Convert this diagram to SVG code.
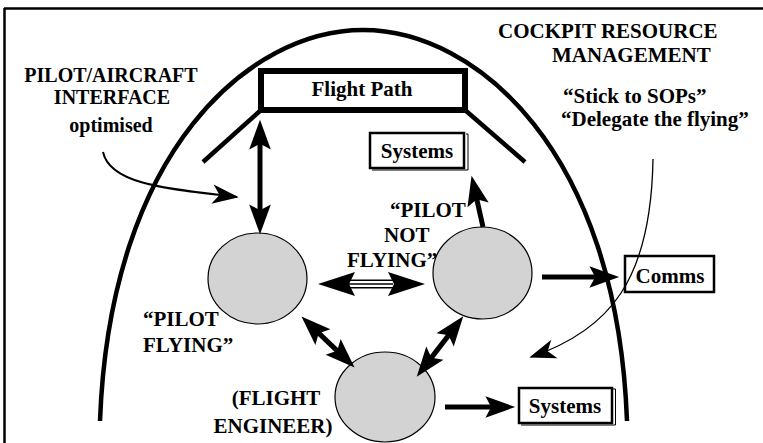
<svg xmlns="http://www.w3.org/2000/svg" width="763" height="443" viewBox="0 0 763 443">
<style>
text{font-family:"Liberation Serif","Times New Roman",serif;font-weight:bold;font-size:21px;fill:#000}
.m{text-anchor:middle}
.s{font-size:20px}
.thick{fill:none;stroke:#000;stroke-width:4.5}
.box{fill:#fff;stroke:#000;stroke-width:2.5}
.node{fill:#d3d3d3;stroke:#000;stroke-width:1.2}
.arr{fill:none;stroke:#000;stroke-width:5}
.thin{fill:none;stroke:#000}
</style>
<defs>
<marker id="ah" markerUnits="userSpaceOnUse" markerWidth="40" markerHeight="40" viewBox="-15 -15 35 30" refX="0" refY="0" orient="auto-start-reverse" overflow="visible">
<path d="M15,0 L-11,-9.5 L-6,0 L-11,9.5 Z" fill="#000"/>
</marker>
<marker id="ahs" markerUnits="userSpaceOnUse" markerWidth="30" markerHeight="30" viewBox="-15 -8 17 16" refX="0" refY="0" orient="auto" overflow="visible">
<path d="M1,0 L-14,-5.5 L-10,0 L-14,5.5 Z" fill="#000"/>
</marker>
</defs>

<g id="frame">
<line x1="4" y1="8.5" x2="763" y2="8.5" stroke="#000" stroke-width="2.5"/>
<line x1="4.5" y1="8" x2="4.5" y2="443" stroke="#000" stroke-width="2.5"/>
</g>

<g id="arch">
<path class="thick" d="M100,421 C110,150 250,30 363,30 C476,30 617,150 627,421"/>
<line x1="261" y1="110" x2="203" y2="162" stroke="#000" stroke-width="4.5"/>
<line x1="465" y1="110" x2="525" y2="162" stroke="#000" stroke-width="4.5"/>
</g>

<g id="flight-path">
<rect x="261" y="71" width="204" height="39" fill="#fff" stroke="#000" stroke-width="6"/>
<text class="m" x="362" y="96">Flight Path</text>
</g>

<g id="systems-top">
<polyline class="thin" stroke-width="1" points="466,134 468,134 468,170 372,170"/>
<rect class="box" x="370" y="133" width="94" height="35"/>
<text class="m" x="417" y="158">Systems</text>
</g>

<g id="comms">
<rect class="box" x="625" y="256" width="89" height="36"/>
<text class="m" x="670" y="283">Comms</text>
</g>

<g id="systems-bottom">
<polyline class="thin" stroke-width="1" points="613,389 615.5,389 615.5,425 521,425"/>
<rect class="box" x="519" y="388" width="93" height="35"/>
<text class="m" x="565" y="413">Systems</text>
</g>

<g id="pilot-flying">
<ellipse class="node" cx="257.5" cy="278.5" rx="49.5" ry="45.5"/>
<text x="143" y="326">“PILOT</text>
<text x="143" y="352">FLYING”</text>
</g>

<g id="pilot-not-flying">
<ellipse class="node" cx="482.5" cy="273" rx="49.5" ry="46"/>
<text x="390" y="217">“PILOT</text>
<text x="384" y="242">NOT</text>
<text x="347" y="267">FLYING”</text>
</g>

<g id="flight-engineer">
<ellipse class="node" cx="385" cy="397" rx="50" ry="45"/>
<text class="m" x="276" y="405">(FLIGHT</text>
<text class="m" x="273" y="433">ENGINEER)</text>
</g>

<g id="labels">
<text class="m s" x="111" y="82">PILOT/AIRCRAFT</text>
<text class="m s" x="112" y="104">INTERFACE</text>
<text class="m s" x="111" y="132">optimised</text>
<text x="498" y="38">COCKPIT RESOURCE</text>
<text x="552" y="62">MANAGEMENT</text>
<text x="563" y="103">“Stick to SOPs”</text>
<text x="561" y="126">“Delegate the flying”</text>
</g>

<g id="connectors">
<line class="arr" x1="260" y1="137" x2="260" y2="217" marker-start="url(#ah)" marker-end="url(#ah)"/>
<line class="arr" stroke-width="4.5" x1="483" y1="227" x2="475.3" y2="192.6" marker-end="url(#ah)"/>
<line class="arr" stroke-width="6" x1="542" y1="277" x2="602" y2="277" marker-end="url(#ah)"/>
<line class="arr" stroke-width="6" x1="445" y1="407" x2="498" y2="407" marker-end="url(#ah)"/>
<line class="arr" x1="313.8" y1="328.4" x2="342.2" y2="355.6" marker-start="url(#ah)" marker-end="url(#ah)"/>
<line class="arr" x1="452.8" y1="329.9" x2="427.2" y2="363.1" marker-start="url(#ah)" marker-end="url(#ah)"/>
<g id="pf-pnf">
<line x1="349" y1="284" x2="393" y2="284" stroke="#000" stroke-width="9"/>
<line x1="349" y1="284" x2="393" y2="284" stroke="#fff" stroke-width="6"/>
<line x1="349" y1="284" x2="393" y2="284" stroke="#000" stroke-width="1.3"/>
<path d="M318,284 L355,272 L349,284 L355,296 Z" fill="#000"/>
<path d="M425,284 L388,272 L394,284 L388,296 Z" fill="#000"/>
</g>
<path class="thin" stroke-width="2" d="M103,152 C110,185 170,189 237,197" marker-end="url(#ahs)"/>
<path class="thin" stroke-width="1.3" d="M653,159 C651,280 610,330 531,357" marker-end="url(#ahs)"/>
</g>
</svg>
